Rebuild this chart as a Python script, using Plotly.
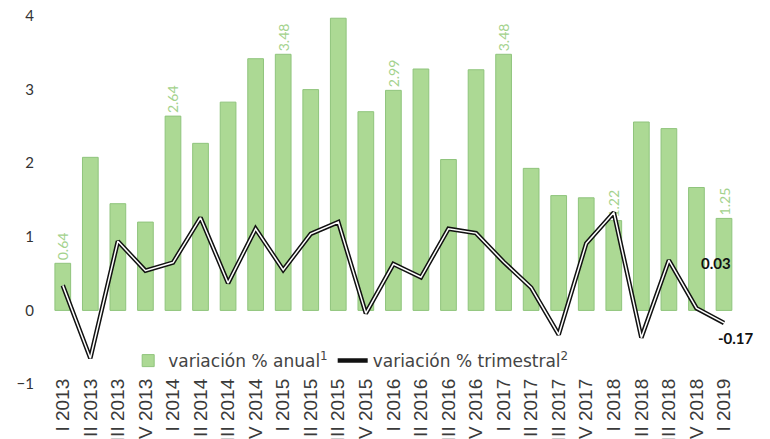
import plotly.graph_objects as go

# quarters I 2013 .. I 2019
quarters = [
    "I 2013", "II 2013", "III 2013", "IV 2013",
    "I 2014", "II 2014", "III 2014", "IV 2014",
    "I 2015", "II 2015", "III 2015", "IV 2015",
    "I 2016", "II 2016", "III 2016", "IV 2016",
    "I 2017", "II 2017", "III 2017", "IV 2017",
    "I 2018", "II 2018", "III 2018", "IV 2018",
    "I 2019",
]

# variación % anual (bars)
anual = [
    0.64, 2.08, 1.45, 1.20,
    2.64, 2.27, 2.83, 3.42,
    3.48, 3.00, 3.97, 2.70,
    2.99, 3.28, 2.05, 3.27,
    3.48, 1.93, 1.56, 1.53,
    1.22, 2.56, 2.47, 1.67,
    1.25,
]

# variación % trimestral (line)
trimestral = [
    0.34, -0.65, 0.94, 0.54,
    0.65, 1.26, 0.37, 1.11,
    0.55, 1.04, 1.20, -0.04,
    0.63, 0.45, 1.11, 1.05,
    0.66, 0.31, -0.33, 0.91,
    1.33, -0.37, 0.68, 0.03,
    -0.17,
]

# only the first quarters carry a label
bar_labels = [f"{v:.2f}" if q.startswith("I ") else "" for q, v in zip(quarters, anual)]

fig = go.Figure()

fig.add_trace(go.Bar(
    x=quarters,
    y=anual,
    name="variación % anual<sup>1</sup>",
    marker=dict(color="#acd994", line=dict(color="#8fc47c", width=1)),
    text=bar_labels,
    textposition="outside",
    textangle=-90,
    constraintext="none",
    textfont=dict(color="#a3d28c", size=14, family="Lato"),
    cliponaxis=False,
))

# double line effect: thick black with thin white core
fig.add_trace(go.Scatter(
    x=quarters,
    y=trimestral,
    mode="lines",
    name="variación % trimestral<sup>2</sup>",
    line=dict(color="#111111", width=4.5),
))
fig.add_trace(go.Scatter(
    x=quarters,
    y=trimestral,
    mode="lines",
    showlegend=False,
    hoverinfo="skip",
    line=dict(color="white", width=1.5),
))

# last two line values
fig.add_annotation(x=quarters[-2], y=trimestral[-2], text=f"<b>{trimestral[-2]:.2f}</b>",
                   showarrow=False, xshift=20, yshift=45,
                   font=dict(size=15, color="#111111", family="Lato"))
fig.add_annotation(x=quarters[-1], y=trimestral[-1], text=f"<b>{trimestral[-1]:.2f}</b>",
                   showarrow=False, xshift=12, yshift=-15,
                   font=dict(size=15, color="#111111", family="Lato"))

fig.update_layout(
    width=770,
    height=439,
    margin=dict(l=41, r=22, t=0, b=63, autoexpand=False),
    paper_bgcolor="white",
    plot_bgcolor="white",
    bargap=0.43,
    font=dict(family="Lato", color="#333333"),
    legend=dict(
        orientation="h",
        x=0.112, y=0.061, xanchor="left", yanchor="middle",
        font=dict(size=17, color="#444444", family="DejaVu Sans"),
        bgcolor="rgba(0,0,0,0)",
        itemwidth=30,
    ),
    xaxis=dict(
        showgrid=False,
        showline=False,
        zeroline=False,
        automargin=False,
        tickangle=-90,
        ticklabelstandoff=-10,
        ticklabeloverflow="allow",
        tickfont=dict(size=19, family="Liberation Sans", color="#3a3a3a"),
    ),
    yaxis=dict(
        range=[-1, 4.109],
        dtick=1,
        showgrid=False,
        zeroline=False,
        showline=False,
        automargin=False,
        ticklabelstandoff=14,
        ticklabeloverflow="allow",
        tickfont=dict(size=15, color="#333333"),
    ),
)

fig.write_html("out.html", config={"displayModeBar": False})
